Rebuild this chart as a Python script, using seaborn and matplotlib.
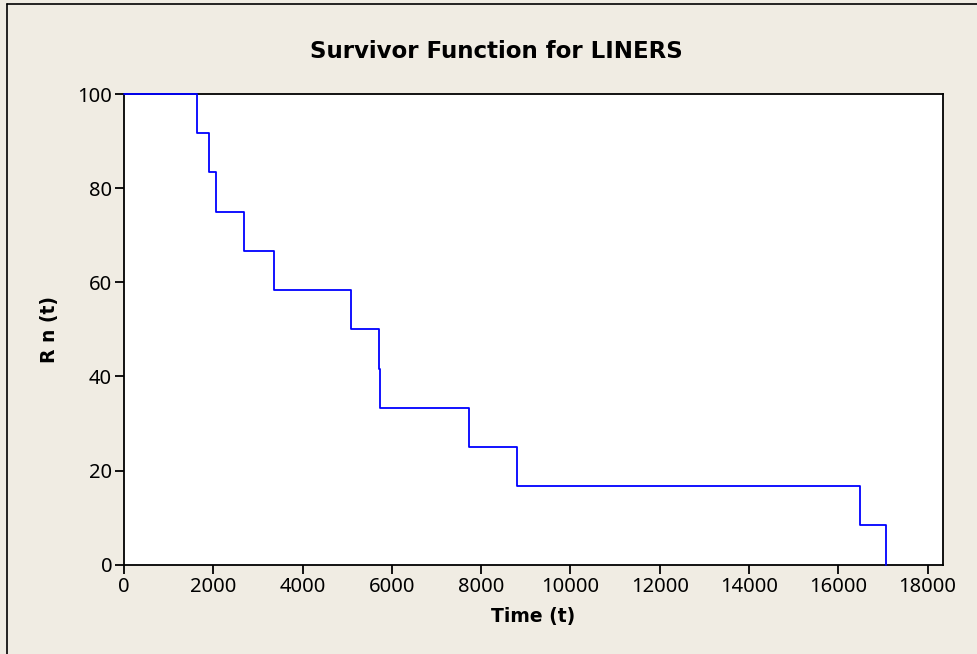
import numpy as np
import pandas as pd
import matplotlib.pyplot as plt
import seaborn as sns
from matplotlib.lines import Line2D

# failure times of the liners
times = [0, 1642, 1911, 2060, 2680, 3360, 5084, 5704, 5740, 7727, 8796, 16484, 17066]
# Kaplan-Meier survivor values in percent (12 failures)
surv = [100, 91.67, 83.33, 75.0, 66.67, 58.33, 50.0, 41.67, 33.33, 25.0, 16.67, 8.33, 0]

df = pd.DataFrame({'t': times, 'Rn': surv})

sns.set_style('white')
plt.rcParams['font.family'] = ['DejaVu Sans']

bg = '#F0ECE3'
fig = plt.figure(figsize=(9.77, 6.54), dpi=100, facecolor=bg)
ax = fig.add_axes([124/977, 1-564.7/654, (942.7-124)/977, (564.7-94)/654])
ax.set_facecolor('white')

sns.lineplot(data=df, x='t', y='Rn', drawstyle='steps-post', color='#0000FF',
             linewidth=1.3, ax=ax, sort=False, zorder=3, clip_on=False)

ax.set_xlim(0, 18340)
ax.set_ylim(0, 100)
ax.set_xticks(np.arange(0, 18001, 2000))
ax.set_yticks(np.arange(0, 101, 20))
for s in ax.spines.values():
    s.set_visible(True)
    s.set_color('black')
    s.set_linewidth(1.3)
ax.tick_params(axis='both', direction='out', length=6.5, width=1.3, color='black',
               labelsize=14.5, labelcolor='black', pad=2, left=True, bottom=True)
for lab in ax.get_xticklabels() + ax.get_yticklabels():
    lab.set_family(['Noto Sans', 'DejaVu Sans'])

ax.set_xlabel('Time (t)', fontsize=13.5, fontweight='bold', color='black')
ax.set_ylabel('R n (t)', fontsize=13.5, fontweight='bold', color='black')
ax.xaxis.set_label_coords(0.5, -0.089)
ax.yaxis.set_label_coords(-0.079, 0.5)
fig.text(496.5/977, 1-51/654, 'Survivor Function for LINERS', fontsize=16.5,
         fontweight='bold', color='black', ha='center', va='center')

# outer graph frame (top and left edges visible)
fig.add_artist(Line2D([7/977, 7/977], [0, 1-4/654], color='black', lw=1.2))
fig.add_artist(Line2D([7/977, 1], [1-4/654, 1-4/654], color='black', lw=1.2))

fig.savefig('out.png', dpi=100, facecolor=bg)
